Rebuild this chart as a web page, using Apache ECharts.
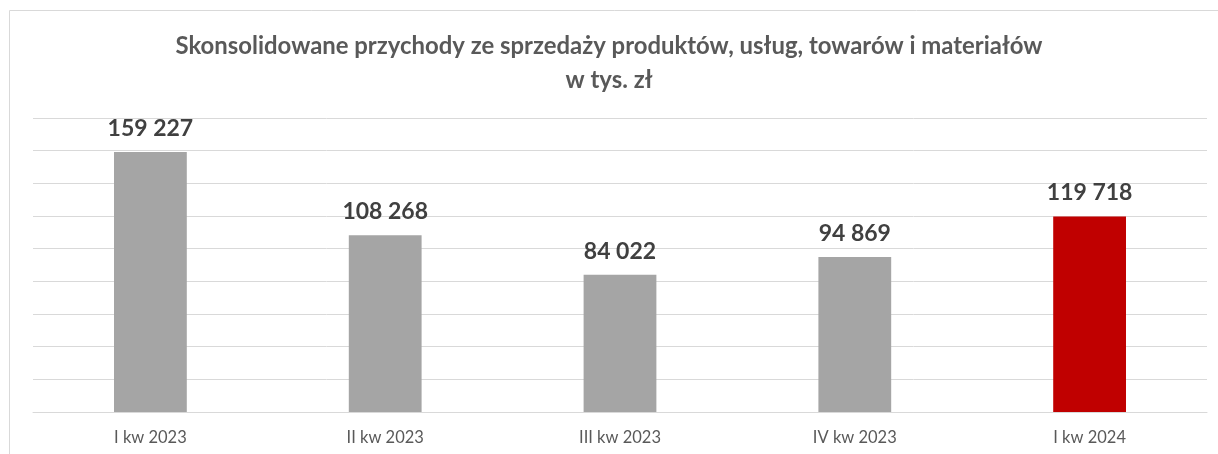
<!DOCTYPE html>
<html>
<head>
<meta charset="utf-8">
<title>Przychody</title>
<script src="https://cdn.jsdelivr.net/npm/echarts@6/dist/echarts.min.js"></script>
<style>
body{margin:0;background:#fff;}
#main{width:1218px;height:454px;}
</style>
</head>
<body>
<div id="main"></div>
<script>
// dane z wykresu
var kwartaly = ["I kw 2023", "II kw 2023", "III kw 2023", "IV kw 2023", "I kw 2024"];
var przychody = [159227, 108268, 84022, 94869, 119718];
var kolory = ["#a5a5a5", "#a5a5a5", "#a5a5a5", "#a5a5a5", "#c00000"];

var myChart = echarts.init(document.getElementById('main'));

function fmt(v){
	return String(v).replace(/\B(?=(\d{3})+(?!\d))/g, ' ');
}

var option = {
	animation: false,
	textStyle: {fontFamily: 'Lato'},
	title: {
		text: 'Skonsolidowane przychody ze sprzedaży produktów, usług, towarów i materiałów\nw tys. zł',
		left: 'center',
		top: 24,
		textStyle: {
			color: '#595959',
			fontSize: 23.9,
			fontWeight: 'bold',
			fontFamily: 'Lato',
			lineHeight: 34
		}
	},
	graphic: [{
		type: 'rect',
		shape: {x: 9.5, y: 10.5, width: 1230, height: 460},
		style: {fill: 'none', stroke: '#d9d9d9', lineWidth: 1},
		silent: true
	}],
	grid: {left: 33, right: 11, top: 118, bottom: 42},
	xAxis: {
		type: 'category',
		data: kwartaly,
		axisTick: {show: false},
		axisLine: {lineStyle: {color: '#d9d9d9', width: 1}},
		axisLabel: {color: '#595959', fontSize: 16.5, margin: 17, fontFamily: 'Lato'}
	},
	yAxis: {
		type: 'value',
		min: 0,
		max: 180000,
		interval: 20000,
		axisLabel: {show: false},
		axisLine: {show: false},
		axisTick: {show: false},
		splitLine: {lineStyle: {color: '#d9d9d9', width: 1}}
	},
	series: [{
		type: 'bar',
		barWidth: '31%',
		data: przychody.map(function(v, i){
			return {value: v, itemStyle: {color: kolory[i]}};
		}),
		label: {
			show: true,
			position: 'top',
			distance: 12,
			color: '#404040',
			fontSize: 23,
			fontWeight: 'bold',
			fontFamily: 'Lato',
			formatter: function(p){ return fmt(p.value); }
		}
	}]
};
myChart.setOption(option);
</script>
</body>
</html>
